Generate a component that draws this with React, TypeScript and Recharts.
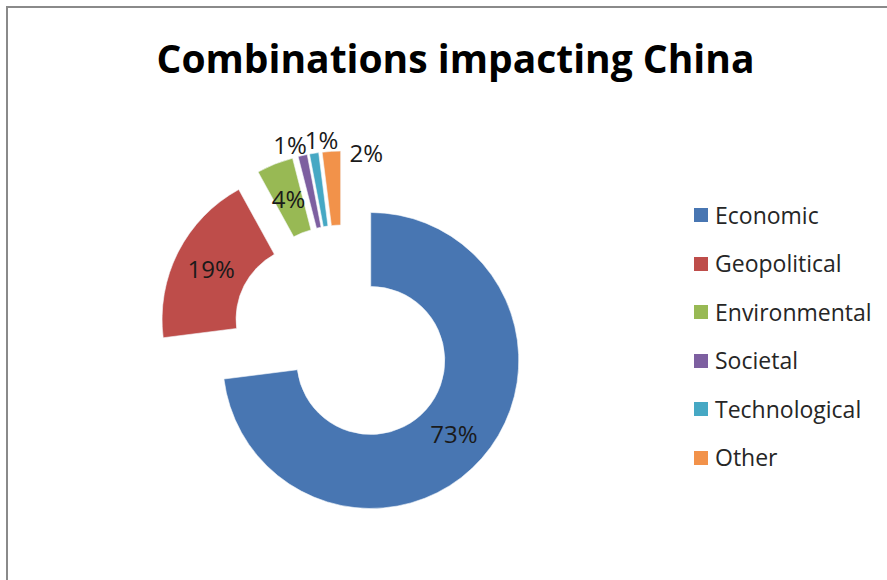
import React from 'react';
import { PieChart, Pie, Cell, Legend } from 'recharts';

const title = 'Combinations impacting China';
const categories = ['Economic', 'Geopolitical', 'Environmental', 'Societal', 'Technological', 'Other'];
const shares = [73, 19, 4, 1, 1, 2];
const colors = ['#4876B2', '#BE4D4A', '#98B954', '#7D5FA0', '#46A8C4', '#F2924A'];

const W = 887;
const H = 580;
const CX = 343;
const CY = 336;
const EXPLODE = 37;
const OUTER = 148;
const INNER = 74;
const FONT = '"Open Sans", sans-serif';
// small slices get their labels outside, nudged like the original
const OUTSIDE = [false, false, false, true, true, true];
const NUDGE: [number, number][] = [[0, 0], [0, 0], [0, 0], [-9, 5], [10, 2], [36, 17]];

const data = categories.map((name, i) => ({ name, value: shares[i] }));
const total = shares.reduce((a, b) => a + b, 0);
const midFrac = shares.map(
  (v, i) => (shares.slice(0, i).reduce((a, b) => a + b, 0) + v / 2) / total
);

const makeLabel = (target: number) => (props: any) => {
  const { cx, cy, midAngle, innerRadius, outerRadius, percent, index } = props;
  if (index !== target) return null;
  const rad = Math.PI / 180;
  const r = OUTSIDE[index] ? outerRadius + 16 : (innerRadius + outerRadius) / 2;
  const x = cx + r * Math.cos(-midAngle * rad) + NUDGE[index][0];
  const y = cy + r * Math.sin(-midAngle * rad) + NUDGE[index][1];
  return (
    <text
      x={x}
      y={y}
      textAnchor="middle"
      dominantBaseline="central"
      fill="#1a1a1a"
      fontSize={24}
      fontFamily={FONT}
    >
      {`${Math.round(percent * 100)}%`}
    </text>
  );
};

const LegendContent = () => (
  <div style={{ fontFamily: FONT }}>
    {categories.map((c, i) => (
      <div key={c} style={{ display: 'flex', alignItems: 'center', height: 48.5 }}>
        <span style={{ display: 'inline-block', width: 14, height: 14, background: colors[i], marginRight: 7 }} />
        <span style={{ fontSize: 23, color: '#262626', lineHeight: '1' }}>{c}</span>
      </div>
    ))}
  </div>
);

export default function App() {
  return (
    <div style={{ position: 'absolute', left: 0, top: 0, width: W, height: H, background: '#fff', overflow: 'hidden' }}>
      <div
        style={{
          position: 'absolute',
          left: 6,
          top: 6,
          right: -4,
          bottom: -4,
          borderTop: '2px solid #8a8a8a',
          borderLeft: '2px solid #8a8a8a',
        }}
      />
      <div
        style={{
          position: 'absolute',
          left: 0,
          width: W,
          top: 34,
          textAlign: 'center',
          paddingLeft: 24,
          boxSizing: 'border-box',
          fontFamily: FONT,
          fontWeight: 700,
          fontSize: 39,
          lineHeight: '48px',
          color: '#000',
        }}
      >
        {title}
      </div>
      <div style={{ position: 'absolute', left: 0, top: 0 }}>
        <PieChart width={W} height={H} margin={{ top: 0, right: 0, bottom: 0, left: 0 }}>
          {data.map((d, k) => (
            <Pie
              key={d.name}
              data={data}
              dataKey="value"
              nameKey="name"
              cx={CX + EXPLODE * Math.sin(2 * Math.PI * midFrac[k])}
              cy={CY - EXPLODE * Math.cos(2 * Math.PI * midFrac[k])}
              innerRadius={INNER}
              outerRadius={OUTER}
              startAngle={90}
              endAngle={-270}
              isAnimationActive={false}
              labelLine={false}
              label={makeLabel(k)}
              legendType={k === 0 ? 'square' : 'none'}
            >
              {data.map((e, i) => (
                <Cell
                  key={e.name}
                  fill={i === k ? colors[i] : 'none'}
                  stroke={i === k ? '#f4f6fa' : 'none'}
                  strokeWidth={0.6}
                />
              ))}
            </Pie>
          ))}
          <Legend
            layout="vertical"
            align="right"
            verticalAlign="middle"
            content={<LegendContent />}
            wrapperStyle={{ left: 694, top: 191, width: 190, right: 'auto', bottom: 'auto' }}
          />
        </PieChart>
      </div>
    </div>
  );
}
